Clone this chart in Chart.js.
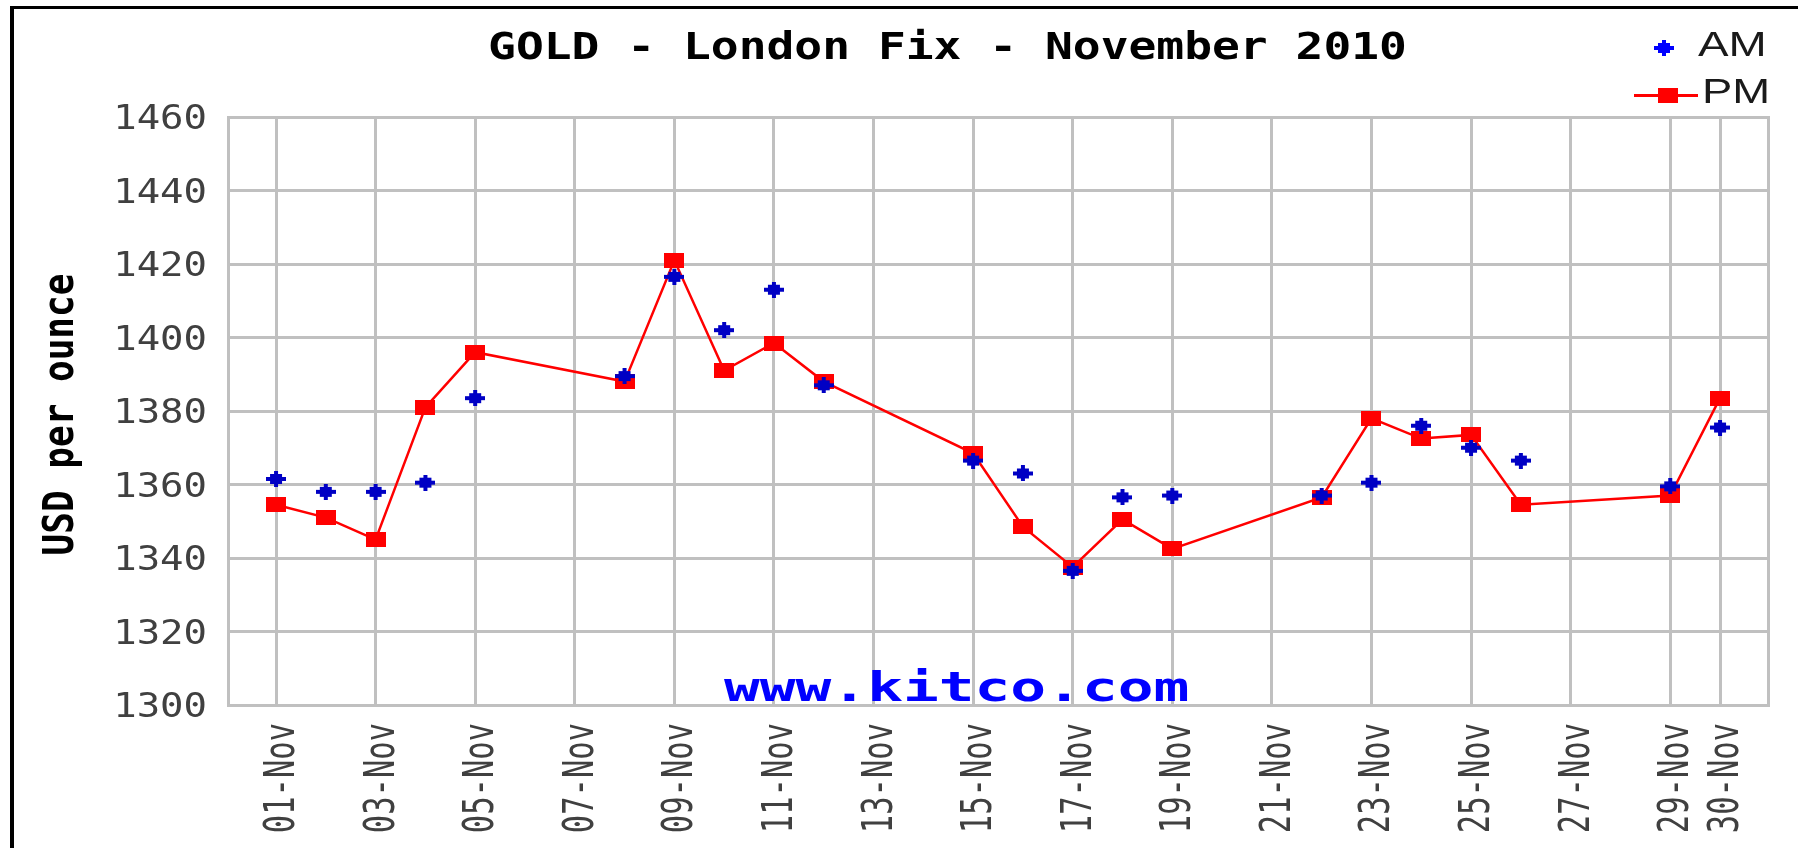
<!DOCTYPE html>
<html><head><meta charset="utf-8">
<script src="https://cdn.jsdelivr.net/npm/chart.js@4.4.1/dist/chart.umd.min.js"></script>
<style>html,body{margin:0;padding:0;background:#fff;overflow:hidden}canvas{display:block}</style>
</head><body>
<canvas id="c" width="1798" height="848"></canvas>
<script>
// ---- data ----
const days = [1,2,3,4,5,8,9,10,11,12,15,16,17,18,19,22,23,24,25,26,29,30];
const amValues = [1361.5,1358,1358,1360.5,1383.5,1389.5,1416.5,1402,1413,1387,1366.5,1363,1336.5,1356.5,1357,1357,1360.5,1376,1370,1366.5,1359.5,1375.5];
const pmValues = [1354.5,1351,1345,1381,1396,1388,1421,1391,1398.5,1388,1368.5,1348.5,1337.5,1350.5,1342.5,1356.5,1378,1372.5,1373.5,1354.5,1357,1383.5];
const xTickDays = [1,3,5,7,9,11,13,15,17,19,21,23,25,27,29,30];
const xTickLabels = ['01-Nov','03-Nov','05-Nov','07-Nov','09-Nov','11-Nov','13-Nov','15-Nov','17-Nov','19-Nov','21-Nov','23-Nov','25-Nov','27-Nov','29-Nov','30-Nov'];
const yTickValues = [1300,1320,1340,1360,1380,1400,1420,1440,1460];
const seriesNames = ['AM','PM'];
const chartTitle = 'GOLD - London Fix - November 2010';
const yAxisTitle = 'USD per ounce';
const watermark = 'www.kitco.com';

// ---- marker images ----
function pmMarker(){const c=document.createElement('canvas');c.width=20;c.height=15;const g=c.getContext('2d');g.fillStyle='#ff0000';g.fillRect(0,0,20,15);return c;}
function amMarker(col){const c=document.createElement('canvas');c.width=20;c.height=16;const g=c.getContext('2d');g.fillStyle=col;g.fillRect(0,6,20,4);g.fillRect(4,3,12,10);g.fillRect(8,0,4,16);return c;}
const pmImg = pmMarker(), amImg = amMarker('#0000c4'), amLegImg = amMarker('#0000ff');

const amData = days.map((d,i)=>({x:d,y:amValues[i]}));
const pmData = days.map((d,i)=>({x:d,y:pmValues[i]}));

function stretchedText(ctx, text, x, y, sx, rot, align){
  ctx.save(); ctx.translate(x,y); ctx.scale(sx,1); if(rot) ctx.rotate(rot);
  ctx.textAlign = align; ctx.textBaseline='alphabetic'; ctx.fillText(text,0,0); ctx.restore();
}

const decor = {
  id:'decor',
  beforeDraw(chart){
    const ctx=chart.ctx; ctx.save();
    ctx.fillStyle='#ffffff'; ctx.fillRect(0,0,chart.width,chart.height);
    ctx.fillStyle='#000000'; ctx.fillRect(10,6,chart.width-10,3); ctx.fillRect(10,6,4,chart.height-6);
    ctx.restore();
  },
  beforeDatasetsDraw(chart){
    const ctx=chart.ctx, a=chart.chartArea; ctx.save();
    ctx.strokeStyle='#c0c0c0'; ctx.lineWidth=3;
    ctx.strokeRect(a.left+0.5, a.top+0.5, a.right-a.left-1, a.bottom-a.top);
    ctx.fillStyle='#0000ff'; ctx.font='bold 41px "DejaVu Sans Mono"';
    stretchedText(ctx, watermark, 724, 701, 1.45, 0, 'left');
    ctx.restore();
  },
  afterDraw(chart){
    const ctx=chart.ctx; ctx.save();
    // title
    ctx.fillStyle='#000000'; ctx.font='bold 37px "DejaVu Sans Mono"';
    stretchedText(ctx, chartTitle, 947.5, 59, 1.25, 0, 'center');
    // y title
    ctx.font='bold 36px "DejaVu Sans Mono"';
    stretchedText(ctx, yAxisTitle, 73, 414.5, 1.18, -Math.PI/2, 'center');
    // y ticks
    const ys=chart.scales.y, xs=chart.scales.x;
    ctx.fillStyle='#404040'; ctx.font='34px "DejaVu Sans Mono"';
    yTickValues.forEach(v=>{ stretchedText(ctx, String(v), 207, ys.getPixelForValue(v)+12.4, 1.146, 0, 'right'); });
    // x ticks
    ctx.font='30.5px "DejaVu Sans Mono"';
    xTickDays.forEach((d,i)=>{ stretchedText(ctx, xTickLabels[i], xs.getPixelForValue(d)+18, 723, 1.4, -Math.PI/2, 'right'); });
    // legend
    ctx.drawImage(amLegImg, 1664-10, 48-8);
    ctx.strokeStyle='#ff0000'; ctx.lineWidth=3; ctx.beginPath(); ctx.moveTo(1634,95.5); ctx.lineTo(1698,95.5); ctx.stroke();
    ctx.drawImage(pmImg, 1668-10, 88);
    ctx.fillStyle='#1a1a1a'; ctx.font='35px "Liberation Sans"';
    stretchedText(ctx, seriesNames[0], 1698, 56, 1.31, 0, 'left');
    stretchedText(ctx, seriesNames[1], 1702, 103, 1.3, 0, 'left');
    ctx.restore();
  }
};

new Chart(document.getElementById('c'), {
  type:'scatter',
  data:{datasets:[
    {label:seriesNames[0], data:amData, showLine:false, pointStyle:amImg, pointRadius:10, pointHoverRadius:10, backgroundColor:'#0000c4', borderColor:'#0000c4'},
    {label:seriesNames[1], data:pmData, showLine:true, borderColor:'#ff0000', borderWidth:2.5, tension:0, pointStyle:pmImg, pointRadius:10, pointHoverRadius:10, backgroundColor:'#ff0000'}
  ]},
  options:{
    responsive:false, devicePixelRatio:1, animation:false, events:[],
    layout:{padding:{left:228, top:117, right:29, bottom:143}},
    plugins:{legend:{display:false}, title:{display:false}, tooltip:{enabled:false}},
    scales:{
      x:{type:'linear', min:0.036, max:30.984,
         afterBuildTicks:(s)=>{ s.ticks = xTickDays.map(v=>({value:v})); },
         ticks:{display:false}, grid:{color:'#c0c0c0', lineWidth:3, drawTicks:false}, border:{display:false}},
      y:{type:'linear', min:1300, max:1460,
         afterBuildTicks:(s)=>{ s.ticks = yTickValues.map(v=>({value:v})); },
         ticks:{display:false}, grid:{color:'#c0c0c0', lineWidth:3, drawTicks:false}, border:{display:false}}
    }
  },
  plugins:[decor]
});
</script>
</body></html>
